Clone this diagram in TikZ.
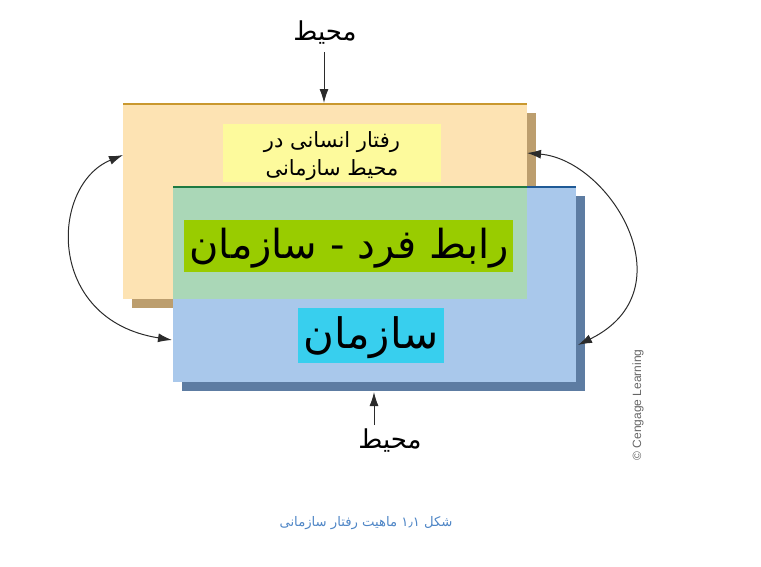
\documentclass[tikz,border=0pt]{standalone}
\usepackage{fontspec}
\usetikzlibrary{arrows.meta}
\TeXXeTstate=1
\newfontfamily\arabicfont[Script=Arabic]{DejaVu Sans}
\newfontfamily\latinsans{Liberation Sans}
\definecolor{orgfill}{HTML}{FDE3B3}
\definecolor{orgshadow}{HTML}{BC9E6E}
\definecolor{orgline}{HTML}{C9982F}
\definecolor{blufill}{HTML}{A9C8EB}
\definecolor{blushadow}{HTML}{5D7CA2}
\definecolor{bluline}{HTML}{1F5A96}
\definecolor{ovlfill}{HTML}{AAD7B7}
\definecolor{ovlline}{HTML}{1E7A42}
\definecolor{lblyellow}{HTML}{FDFA9C}
\definecolor{lblgreen}{HTML}{99CC00}
\definecolor{lblcyan}{HTML}{38CFEE}
\definecolor{captblue}{HTML}{4F86C6}
\definecolor{arrowgrey}{HTML}{2B2B2B}
\tikzset{
  conn/.style={draw=arrowgrey, line width=1pt},
  tip/.style={-{Latex[length=14pt,width=9pt]}},
  twotip/.style={{Latex[length=14pt,width=9pt]}-{Latex[length=14pt,width=9pt]}},
  boxnode/.style={inner sep=0pt, outer sep=0pt, draw=none},
  ar/.style={font=\arabicfont, text=black, inner sep=0pt, align=center},
}
\begin{document}
\begin{tikzpicture}[x=1pt, y=-1pt]
\useasboundingbox (0,0) rectangle (761,566);
% orange box with shadow
\fill[orgshadow] (132,113) rectangle (536,308);
\node[boxnode, fill=orgfill, minimum width=404pt, minimum height=195pt] (org) at (325,201.5) {};
\draw[orgline, line width=2.6pt] (123,104) -- (527,104);
% blue box with shadow
\fill[blushadow] (182,196) rectangle (585,391);
\node[boxnode, fill=blufill, minimum width=403pt, minimum height=195pt] (blu) at (374.5,284.5) {};
% overlap
\fill[ovlfill] (173,187) rectangle (527,299);
\draw[bluline, line width=2.2pt] (173,187) -- (576,187);
\draw[ovlline, line width=2.2pt] (173,187) -- (527,187);
% labels
\node[boxnode, fill=lblyellow, minimum width=218pt, minimum height=58pt] (yel) at (332,153) {};
\node[ar, font=\arabicfont\fontsize{21}{28}\selectfont] (yeltext) at (332,156) {\beginR رفتار انسانی در\endR\\\beginR محیط سازمانی\endR};
\node[boxnode, fill=lblgreen, minimum width=329pt, minimum height=52pt] (grn) at (348.5,246) {};
\node[ar, font=\arabicfont\fontsize{40}{44}\selectfont] (grntext) at (349,248) {\beginR رابط فرد - سازمان\endR};
\node[boxnode, fill=lblcyan, minimum width=146pt, minimum height=55pt] (cyn) at (371,335.5) {};
\node[ar, font=\arabicfont\fontsize{42}{46}\selectfont] (cyntext) at (371,338) {\beginR سازمان\endR};
% environment labels
\node[ar, font=\arabicfont\fontsize{26}{30}\selectfont] (envtop) at (325,33) {\beginR محیط\endR};
\node[ar, font=\arabicfont\fontsize{26}{30}\selectfont] (envbot) at (390,441) {\beginR محیط\endR};
\coordinate (toptip) at (324,103);
\coordinate (topstart) at (324,52);
\coordinate (bottip) at (374,392);
\coordinate (botstart) at (374,425);
\draw[conn, tip] (topstart) -- (toptip);
\draw[conn, tip] (botstart) -- (bottip);
% curved arrows
\coordinate (la) at (123,155);
\coordinate (lb) at (172,340);
\coordinate (ra) at (527,153);
\coordinate (rb) at (578,345);
\draw[conn, twotip] (la) .. controls (50,185) and (45,320) .. (lb);
\draw[conn, twotip] (ra) .. controls (610,160) and (690,290) .. (rb);
% credit
\node[font=\latinsans\fontsize{12}{14}\selectfont, text=black!60, rotate=90, inner sep=0pt] (credit) at (638,405) {\textcopyright{} Cengage Learning};
% caption
\node[ar, text=captblue, font=\arabicfont\fontsize{13.2}{16}\selectfont] (caption) at (366,523) {\beginR شکل \beginL ۱٫۱\endL{} ماهیت رفتار سازمانی\endR};
\end{tikzpicture}
\end{document}
